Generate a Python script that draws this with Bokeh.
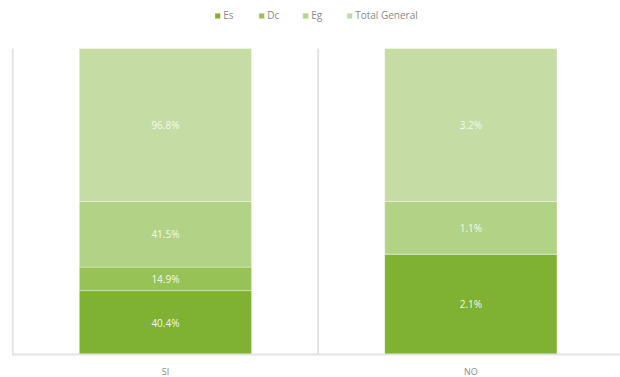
from bokeh.plotting import figure
from bokeh.models import Range1d, FixedTicker, ColumnDataSource, Legend, LegendItem
from bokeh.core.properties import value
from bokeh.embed import file_html
from bokeh.resources import INLINE

categories = ["SI", "NO"]
series = ["Es", "Dc", "Eg", "Total General"]
es = [40.4, 2.1]
dc = [14.9, 0.0]
eg = [41.5, 1.1]
total = [96.8, 3.2]
colors = ["#7fb132", "#97c356", "#b2d386", "#c5dda4"]

vals = [es, dc, eg, total]
n = len(categories)
xs = [i + 0.5 for i in range(n)]
sums = [sum(v[i] for v in vals) for i in range(n)]

# frame covers the whole canvas height; 0% lands at y=354 px and 100% at y=48 px
PX_PER_PCT = 306.0 / 100.0
ymin = -(377.0 - 354.0) / PX_PER_PCT
ymax = 100.0 + 48.0 / PX_PER_PCT

p = figure(width=620, height=377, output_backend="svg", toolbar_location=None,
           x_range=Range1d(-0.004, 1.99), y_range=Range1d(ymin, ymax),
           min_border_left=11, min_border_right=0, min_border_top=0, min_border_bottom=0)
p.outline_line_color = None
p.background_fill_color = "white"
p.border_fill_color = "white"

# category separators
seps = [float(i) for i in range(n)]
p.segment(x0=seps, x1=seps, y0=[0] * n, y1=[100] * n, line_color="#e3e3e3", line_width=2)

items = []
bottoms = [0.0] * n
lx, ly, lt = [], [], []
for k, name in enumerate(series):
    tops = [bottoms[i] + vals[k][i] / sums[i] * 100 for i in range(n)]
    src = ColumnDataSource(dict(x=xs, bottom=list(bottoms), top=tops))
    r = p.vbar(x="x", width=0.564, bottom="bottom", top="top", source=src,
               fill_color=colors[k], line_color="#ffffff", line_alpha=0.35, line_width=1)
    items.append(LegendItem(label=name, renderers=[r]))
    for i in range(n):
        if vals[k][i] > 0:
            lx.append(xs[i])
            ly.append((bottoms[i] + tops[i]) / 2)
            lt.append(f"{vals[k][i]:.1f}%")
    bottoms = tops

p.text(x=lx, y=ly, text=lt, text_align="center", text_baseline="middle",
       text_color="#f4f8ee", text_font_size="10px", text_font=value("Open Sans"))

p.yaxis.visible = False
p.ygrid.visible = False
p.xgrid.visible = False
p.xaxis.fixed_location = 0
p.xaxis.ticker = FixedTicker(ticks=xs)
p.xaxis.major_label_overrides = {x: c for x, c in zip(xs, categories)}
p.xaxis.major_tick_line_color = None
p.xaxis.minor_tick_line_color = None
p.xaxis.major_tick_out = 0
p.xaxis.axis_label_standoff = 0
p.xaxis.axis_line_color = "#e3e3e3"
p.xaxis.axis_line_width = 2
p.xaxis.major_label_text_color = "#8a8a8a"
p.xaxis.major_label_text_font = "Open Sans"
p.xaxis.major_label_text_font_size = "9px"
p.xaxis.major_label_standoff = 10

legend = Legend(items=items, orientation="horizontal", location="top_center",
                label_text_font="Open Sans", label_text_font_size="10px", label_text_color="#8a8a8a",
                glyph_width=7, glyph_height=7, label_standoff=3, spacing=14,
                border_line_color=None, background_fill_alpha=0, padding=4, margin=8)
p.add_layout(legend, "center")

open("out.html", "w").write(file_html(p, INLINE))
